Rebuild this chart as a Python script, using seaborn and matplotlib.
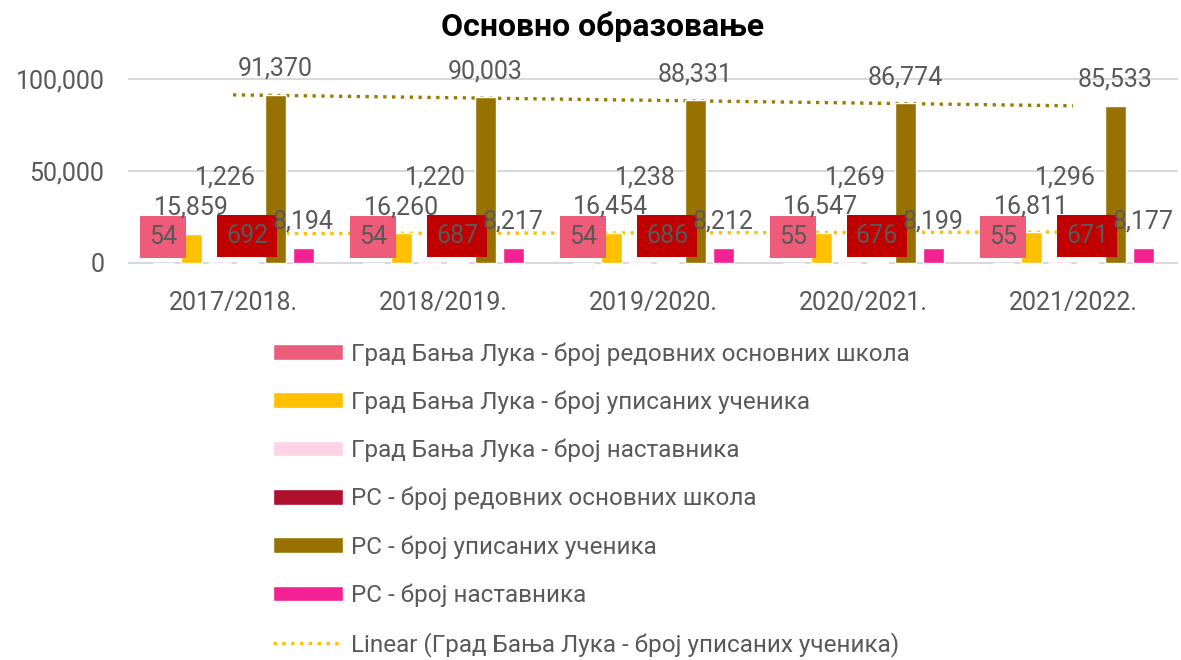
import numpy as np
import pandas as pd
import seaborn as sns
import matplotlib.pyplot as plt
from matplotlib.patches import Patch
from matplotlib.ticker import FuncFormatter

years = ["2017/2018.", "2018/2019.", "2019/2020.", "2020/2021.", "2021/2022."]
bl_schools = [54, 54, 54, 55, 55]
bl_students = [15859, 16260, 16454, 16547, 16811]
bl_teachers = [1226, 1220, 1238, 1269, 1296]
rs_schools = [692, 687, 686, 676, 671]
rs_students = [91370, 90003, 88331, 86774, 85533]
rs_teachers = [8194, 8217, 8212, 8199, 8177]

series_names = [
    "Град Бања Лука - број редовних основних школа",
    "Град Бања Лука - број уписаних ученика",
    "Град Бања Лука - број наставника",
    "РС - број редовних основних школа",
    "РС - број уписаних ученика",
    "РС - број наставника",
]
series_values = [bl_schools, bl_students, bl_teachers, rs_schools, rs_students, rs_teachers]
colors = ["#EC5D7B", "#FFC000", "#FDD3E8", "#B0102F", "#987200", "#F42193"]
trend_label = "Linear (Град Бања Лука - број уписаних ученика)"

rows = []
for name, vals in zip(series_names, series_values):
    for y, v in zip(years, vals):
        rows.append({"year": y, "series": name, "value": v})
df = pd.DataFrame(rows)

sns.set_style("white")
plt.rcParams['font.family'] = ['Roboto', 'DejaVu Sans']
grey = "#595959"

fig = plt.figure(figsize=(11.81, 6.60), dpi=100)
ax = fig.add_axes([0.1084, 0.59873, 0.8891, 0.28436])

sns.barplot(data=df, x="year", y="value", hue="series", hue_order=series_names,
            palette=dict(zip(series_names, colors)), saturation=1,
            width=0.8, gap=0.25, legend=False, ax=ax, zorder=2)

# linear trends, drawn between first and last category
xi = np.arange(len(years))
ends = np.array([0, len(years) - 1])
k, b = np.polyfit(xi, rs_students, 1)
ax.plot(ends, k * ends + b, color="#9C7A00", lw=2.4, ls=":", zorder=1.5)
k, b = np.polyfit(xi, bl_students, 1)
trend_line, = ax.plot(ends, k * ends + b, color="#FFC000", lw=2.4, ls=":", zorder=1.5,
                      label=trend_label)

# data labels
box_style = {0: "#EF5C7A", 3: "#C00000"}
for i, cont in enumerate(ax.containers):
    for p, v in zip(cont.patches, series_values[i]):
        cx = p.get_x() + p.get_width() / 2
        top = p.get_height()
        dx, dy = 0, 19
        if i == 2:
            dx, dy = 6, 76
        kw = {}
        if i in box_style:
            kw["bbox"] = dict(boxstyle="square,pad=0.36", fc=box_style[i], ec="none")
        ax.annotate(f"{v:,}", (cx, top), xytext=(dx, dy), textcoords="offset pixels",
                    ha="center", va="baseline", fontsize=18, color=grey,
                    zorder=5, annotation_clip=False, **kw)

ax.set_ylim(-1000, 101000)
ax.set_xlim(-0.5, len(years) - 0.5)
ax.set_yticks([0, 50000, 100000])
ax.yaxis.set_major_formatter(FuncFormatter(lambda v, _: f"{v:,.0f}"))
ax.yaxis.grid(True, color="#D9D9D9", lw=1.5, zorder=0)
ax.set_axisbelow(True)
for s in ax.spines.values():
    s.set_visible(False)
ax.tick_params(axis="y", length=0, pad=17, labelsize=18, labelcolor=grey)
ax.tick_params(axis="x", length=0, pad=19, labelsize=18, labelcolor=grey)
ax.set_xlabel("")
ax.set_ylabel("")

fig.text(603 / 1181, 1 - 36 / 660, "Основно образовање", ha="center", va="baseline",
         fontsize=23, fontweight="bold", color="black")

handles = [Patch(facecolor=c, label=n) for c, n in zip(colors, series_names)]
handles.append(trend_line)
leg_fs = 17.5
fs_px = leg_fs * 100 / 72
fig.legend(handles=handles, loc="upper left", bbox_to_anchor=(273 / 1181, 1 - 342 / 660),
           frameon=False, fontsize=leg_fs, labelcolor=grey, borderpad=0, borderaxespad=0,
           handlelength=70 / fs_px, handleheight=15 / fs_px, handletextpad=8 / fs_px,
           labelspacing=1.02)

fig.savefig("out.png", dpi=100)
